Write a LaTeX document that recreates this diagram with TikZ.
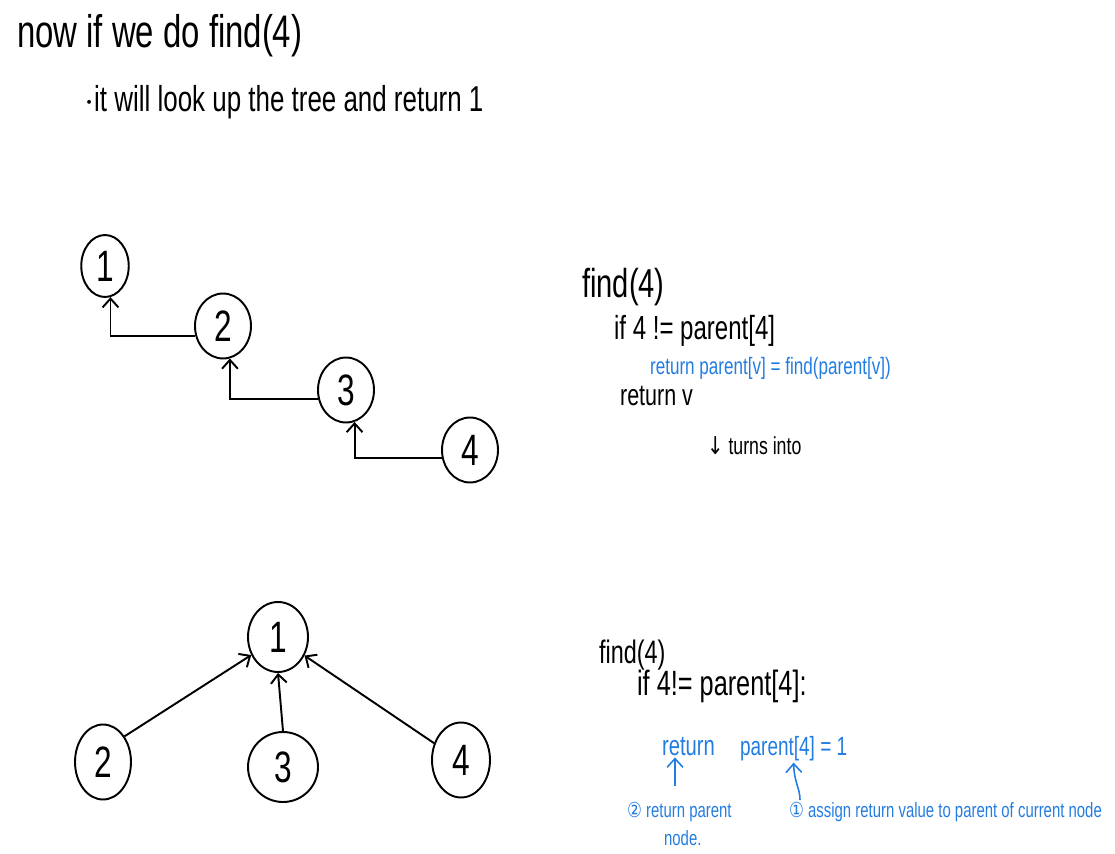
\documentclass[tikz,border=0pt]{standalone}
\usepackage{fontspec}
\setmainfont{Liberation Sans}[FakeStretch=0.72]
\newfontfamily\symfont{DejaVu Sans}[FakeStretch=0.8]
\usetikzlibrary{shapes.geometric, arrows.meta}
\definecolor{penblue}{RGB}{35,125,225}

\begin{document}
\begin{tikzpicture}[
  x=0.02cm, y=-0.02cm,
  treenode/.style={ellipse, draw, line width=1.1pt, minimum width=1.12cm, minimum height=1.3cm, inner sep=0pt, font=\fontsize{25}{25}\selectfont},
  txt/.style={anchor=base west, inner sep=1pt},
  bigtxt/.style={txt, font=\fontsize{26}{30}\selectfont},
  codetxt/.style={txt, font=\fontsize{19}{22}\selectfont},
  bluetxt/.style={txt, penblue, font=\fontsize{13.5}{16}\selectfont},
  notetxt/.style={txt, penblue, font=\fontsize{11.8}{14}\selectfont},
  arr/.style={-{Straight Barb[length=5pt, width=9pt]}, line width=1.1pt},
  barr/.style={arr, penblue, line width=0.9pt},
]
  \useasboundingbox (0,0) rectangle (1115,854);

  % Heading
  \node[bigtxt] (title) at (15,48) {now if we do find(4)};
  \node[txt, font=\fontsize{20.5}{24}\selectfont] (bullet) at (82,112) {$\cdot$it will look up the tree and return 1};

  % Chain before find
  \node[treenode, minimum width=0.95cm, minimum height=1.24cm] (t1) at (105,266) {1};
  \node[treenode] (t2) at (223,326) {2};
  \node[treenode] (t3) at (346,390) {3};
  \node[treenode] (t4) at (470,450) {4};
  \draw[arr] (t2.200) -| (t1.-80);
  \draw[arr] (t3.198) -| (t2.-78);
  \draw[arr] (t4.195) -| (t3.-75);

  % Code before find
  \node[codetxt, font=\fontsize{23}{26}\selectfont] (find1) at (580,298) {find(4)};
  \node[codetxt] (if1) at (612,340) {if 4 != parent[4]};
  \node[bluetxt] (ret1) at (648,375) {return parent[v] = find(parent[v])};
  \node[codetxt, font=\fontsize{17}{20}\selectfont] (retv) at (618,406) {return v};
  \node[txt, font=\fontsize{14}{16}\selectfont] (turns) at (705,455) {{\symfont ↓} turns into};

  % Tree after find
  \node[treenode, minimum width=1.2cm, minimum height=1.4cm] (b1) at (278,637) {1};
  \node[treenode, minimum height=1.5cm] (b2) at (103,762) {2};
  \node[treenode, minimum width=1.4cm, minimum height=1.4cm] (b3) at (283,767) {3};
  \node[treenode, minimum width=1.16cm, minimum height=1.5cm] (b4) at (461,760) {4};
  \draw[arr] (b2.50) -- (b1.214);
  \draw[arr] (b3.north) -- (b1.south);
  \draw[arr] (b4.148) -- (b1.-35);

  % Code after find
  \node[codetxt, font=\fontsize{18.5}{22}\selectfont] (find2) at (597,663) {find(4)};
  \node[codetxt, font=\fontsize{20}{24}\selectfont] (if2) at (635,695) {if 4!= parent[4]:};
  \node[bluetxt, font=\fontsize{16}{18}\selectfont] (ret2) at (660,755) {return};
  \node[bluetxt, font=\fontsize{15}{18}\selectfont] (par2) at (738,755) {parent[4] = 1};
  \node[notetxt] (note2) at (625,817) {{\symfont ②} return parent};
  \node[notetxt] (note2b) at (662,845) {node.};
  \node[notetxt] (note1) at (787,817) {{\symfont ①} assign return value to parent of current node};
  \coordinate (tail2) at (675,786);
  \coordinate (tail1) at (800,800);
  \draw[barr] (tail2) -- (tail2 |- ret2.south);
  \draw[barr] (tail1) .. controls (800,788) and (794,782) .. (par2.south);
\end{tikzpicture}
\end{document}
